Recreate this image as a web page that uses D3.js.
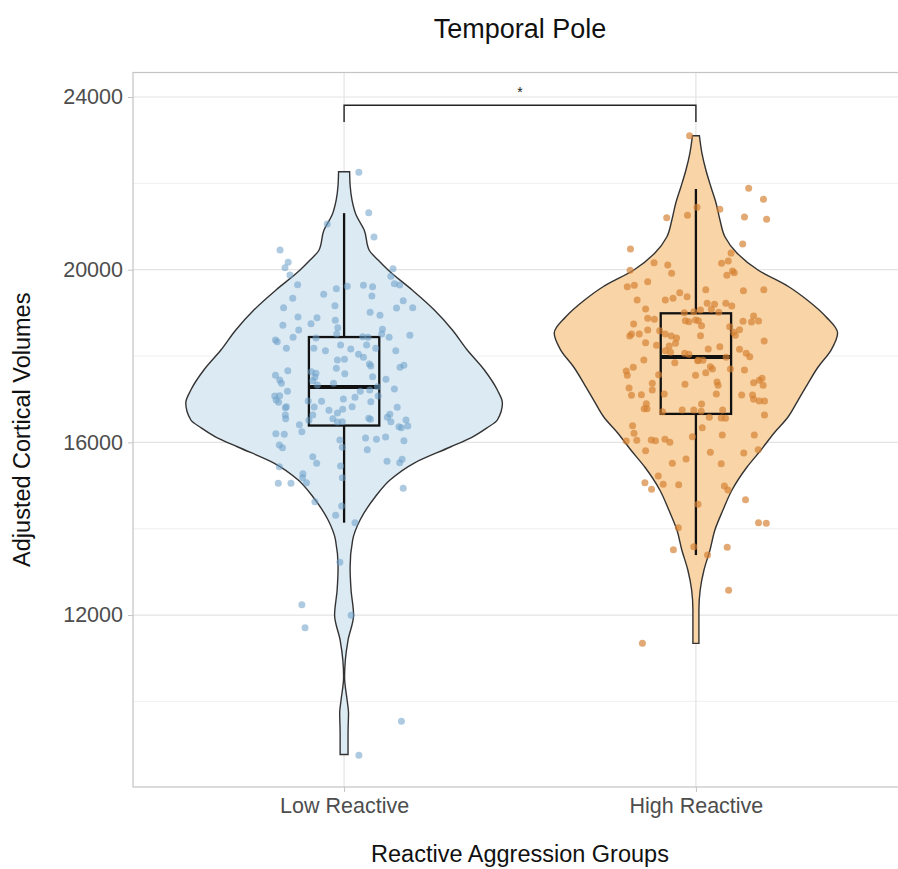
<!DOCTYPE html>
<html>
<head>
<meta charset="utf-8">
<script src="https://cdn.jsdelivr.net/npm/d3@7"></script>
<style>
  body { margin: 0; background: #fff; }
  text { font-family: "Liberation Sans", Arial, sans-serif; }
</style>
</head>
<body>
<div id="viz"></div>
<script>
/* global d3 */
const groups = ['Low Reactive', 'High Reactive'];
const yTicks = [12000, 16000, 20000, 24000];
const yMinorTicks = [10000, 14000, 18000, 22000];
const yDomain = [8017, 24568];

// box stats: [lower whisker, q1, median, q3, upper whisker]
const lowBox = [14140, 16390, 17280, 18440, 21310];
const highBox = [13390, 16660, 17980, 18990, 21870];

// violin outline: [value, relative density]
const lowViolin = [
  [8770, 0.025], [9268, 0.025], [9731, 0.028], [10033, 0.019], [10565, 0.003],
  [10959, 0.008], [11422, 0.025], [12001, 0.06], [12580, 0.044], [13113, 0.038],
  [13738, 0.054], [14202, 0.101], [14734, 0.196], [15128, 0.29], [15522, 0.443],
  [15893, 0.671], [16124, 0.81], [16330, 0.9], [16518, 0.968], [16912, 1.0],
  [17213, 0.968], [17676, 0.886], [18139, 0.778], [18603, 0.684], [19066, 0.57],
  [19529, 0.43], [19993, 0.278], [20224, 0.215], [20456, 0.158], [20919, 0.127],
  [21267, 0.076], [21614, 0.05], [21962, 0.038], [22270, 0.035]
];
const highViolin = [
  [11345, 0.019], [12117, 0.019], [12580, 0.027], [13043, 0.051], [13507, 0.089],
  [13970, 0.12], [14433, 0.171], [14897, 0.228], [15429, 0.323], [15823, 0.411],
  [16217, 0.494], [16588, 0.582], [16981, 0.646], [17375, 0.709], [17746, 0.772],
  [18139, 0.854], [18533, 0.895], [18904, 0.823], [19298, 0.703], [19599, 0.589],
  [19993, 0.392], [20386, 0.259], [20757, 0.184], [21151, 0.152], [21545, 0.127],
  [21915, 0.095], [22309, 0.063], [22703, 0.038], [23104, 0.022]
];

// jittered points: [horizontal jitter (category units), value]
const lowPoints = [
  [-0.048, 21058], [-0.182, 20456], [-0.159, 20171], [-0.168, 20046], [-0.154, 19877],
  [-0.132, 19652], [-0.022, 19559], [-0.058, 19430], [-0.146, 19337], [-0.026, 19166],
  [-0.172, 19119], [-0.131, 18904], [-0.077, 18888], [-0.094, 18749], [-0.025, 18827],
  [-0.174, 18712], [-0.129, 18603], [-0.018, 18656], [0.042, 22256], [0.070, 21320],
  [0.085, 20757], [0.139, 20023], [0.133, 19847], [0.143, 19675], [0.158, 19645],
  [0.009, 19615], [0.055, 19638], [0.081, 19606], [0.079, 19390], [0.168, 19282],
  [0.195, 19119], [0.149, 19112], [0.074, 19013], [0.102, 18943], [0.109, 18619],
  [-0.195, 18371], [-0.190, 18332], [-0.145, 18434], [-0.164, 18179], [-0.080, 18417],
  [-0.021, 18510], [-0.010, 18255], [-0.086, 18179], [-0.053, 18123], [-0.019, 17908],
  [-0.022, 17716], [0.001, 17924], [-0.160, 17660], [-0.093, 17637], [-0.080, 17600],
  [-0.083, 17507], [-0.089, 17428], [-0.195, 17553], [-0.183, 17445], [-0.178, 17368],
  [-0.030, 17368], [-0.076, 17329], [-0.161, 17183], [-0.197, 17074], [-0.183, 17081],
  [-0.193, 16981], [-0.186, 16928], [-0.102, 16958], [-0.064, 16951], [-0.002, 17004],
  [-0.164, 16826], [-0.167, 16803], [-0.085, 16819], [-0.043, 16743], [-0.019, 16680],
  [-0.004, 16766], [-0.167, 16634], [-0.166, 16548], [-0.089, 16634], [-0.100, 16511],
  [-0.032, 16548], [-0.019, 16472], [-0.127, 16409], [-0.120, 16247], [-0.194, 16201],
  [-0.170, 16187], [-0.012, 16055], [-0.184, 15939], [-0.175, 15876], [-0.005, 15886],
  [-0.089, 15668], [-0.078, 15515], [-0.184, 15436], [-0.010, 15452], [-0.117, 15274],
  [-0.118, 15181], [-0.107, 15066], [-0.187, 15052], [-0.151, 15052], [-0.005, 15181],
  [0.053, 18448], [0.068, 18434], [0.107, 18510], [0.128, 18434], [0.187, 18480],
  [0.019, 18163], [0.064, 18255], [0.090, 18179], [0.041, 18040], [0.055, 17970],
  [0.147, 18123], [0.072, 17815], [0.076, 17769], [0.159, 17739], [0.170, 17785],
  [0.002, 17590], [0.081, 17521], [0.119, 17461], [0.143, 17236], [0.046, 17183],
  [0.073, 17213], [0.095, 17289], [0.031, 17044], [0.023, 16826], [0.076, 16942],
  [0.097, 17074], [0.151, 16812], [0.130, 16650], [0.123, 16581], [0.070, 16557],
  [0.075, 16534], [0.133, 16479], [0.176, 16518], [0.156, 16363], [0.163, 16340],
  [0.181, 16379], [-0.005, 16479], [0.061, 16101], [0.092, 16071], [0.118, 16124],
  [0.170, 16039], [0.066, 15830], [0.122, 15561], [0.158, 15529], [0.165, 15608],
  [0.168, 14936], [-0.083, 14626], [-0.007, 14526], [-0.024, 14310], [0.031, 14139],
  [-0.012, 13222], [-0.120, 12240], [-0.111, 11707], [0.020, 11994], [0.163, 9539],
  [0.042, 8751]
];
const highPoints = [
  [-0.018, 23104], [0.003, 21445], [-0.024, 21260], [-0.083, 21204], [-0.186, 20479],
  [-0.119, 20162], [-0.080, 20108], [-0.069, 19916], [-0.187, 19986], [-0.195, 19606],
  [-0.175, 19638], [-0.137, 19722], [-0.046, 19467], [-0.025, 19374], [-0.065, 19337],
  [-0.087, 19298], [-0.167, 19298], [0.150, 21885], [0.192, 21630], [0.068, 21399],
  [0.138, 21220], [0.201, 21167], [0.133, 20595], [0.100, 20386], [0.073, 20148],
  [0.092, 20201], [0.104, 19969], [0.109, 19930], [0.088, 19870], [0.028, 19536],
  [0.135, 19513], [0.193, 19536], [-0.143, 19089], [-0.033, 19003], [-0.006, 19027],
  [-0.137, 18874], [-0.118, 18851], [-0.030, 18818], [-0.020, 18795], [-0.001, 18834],
  [-0.177, 18742], [-0.137, 18603], [-0.103, 18587], [-0.183, 18510], [-0.188, 18464],
  [-0.161, 18510], [-0.087, 18510], [-0.070, 18464], [-0.055, 18417], [-0.143, 18309],
  [-0.112, 18248], [-0.076, 18232], [-0.058, 18295], [-0.087, 18123], [-0.072, 18086],
  [-0.032, 18063], [-0.020, 18040], [0.005, 17892], [-0.148, 17908], [-0.060, 17845],
  [-0.178, 17739], [-0.198, 17653], [-0.195, 17553], [-0.106, 17567], [-0.001, 17553],
  [-0.124, 17368], [-0.031, 17345], [-0.190, 17259], [-0.124, 17213], [-0.183, 17090],
  [-0.155, 17104], [-0.090, 17120], [-0.141, 16896], [-0.147, 16780], [-0.139, 16780],
  [-0.095, 16710], [-0.039, 16750], [-0.006, 16750], [-0.180, 16386], [-0.176, 16210],
  [-0.168, 16048], [-0.198, 16032], [-0.127, 16055], [-0.115, 16039], [-0.088, 16071],
  [-0.074, 16001], [-0.010, 16131], [-0.143, 15807], [-0.028, 15615], [-0.067, 15515],
  [0.032, 19221], [0.053, 19198], [0.085, 19221], [0.102, 19159], [0.013, 19066],
  [0.044, 19082], [0.065, 19013], [0.007, 18818], [0.016, 18702], [0.164, 18927],
  [0.134, 18804], [0.158, 18788], [0.178, 18811], [0.096, 18679], [0.124, 18610],
  [0.107, 18550], [0.112, 18480], [0.013, 18471], [0.194, 18348], [0.124, 18156],
  [0.068, 18216], [0.035, 18163], [0.143, 18063], [0.153, 17984], [0.007, 17901],
  [0.020, 17901], [0.086, 17970], [0.041, 17753], [0.047, 17699], [0.098, 17699],
  [0.138, 17676], [0.028, 17614], [0.060, 17398], [0.063, 17322], [0.164, 17382],
  [0.180, 17438], [0.188, 17484], [0.191, 17322], [0.058, 17120], [0.130, 17097],
  [0.161, 17097], [0.164, 16997], [0.180, 16958], [0.195, 16958], [0.016, 16889],
  [0.015, 16719], [0.076, 16750], [0.038, 16581], [0.072, 16564], [0.084, 16557],
  [0.195, 16634], [0.018, 16340], [0.075, 16171], [0.166, 16171], [0.041, 15770],
  [0.136, 15754], [0.177, 15830], [0.072, 15506], [-0.107, 15221], [-0.145, 15066],
  [-0.093, 15029], [-0.049, 15019], [-0.126, 14913], [0.081, 14989], [0.091, 14897],
  [0.141, 14672], [0.006, 14565], [0.178, 14139], [0.200, 14125], [-0.050, 14023],
  [-0.064, 13514], [-0.006, 13583], [0.089, 13569], [0.033, 13391], [0.093, 12573],
  [-0.152, 11345]
];

const sigLabel = '*';
const bracketValue = 23810;
const bracketTickValue = 23420;

const series = [
  { name: groups[0], violin: lowViolin, box: lowBox, points: lowPoints, fill: '#dceaf4', dot: 'rgba(105,158,200,0.55)' },
  { name: groups[1], violin: highViolin, box: highBox, points: highPoints, fill: '#f9d4a6', dot: 'rgba(212,128,50,0.68)' },
];

const width = 898;
const height = 869;
const margin = { left: 133, right: -9, top: 72.5, bottom: 82 };

const svg = d3.select('#viz').append('svg')
  .attr('width', width)
  .attr('height', height);

// categories sit at 1 and 2, discrete expansion of 0.6 on each side
const xScale = d3.scaleLinear()
  .domain([0.4, 2.6])
  .range([margin.left, width - margin.right]);

const yScale = d3.scaleLinear()
  .domain(yDomain)
  .range([height - margin.bottom, margin.top]);

const panelW = xScale(2.6) - xScale(0.4);
const panelH = yScale(yDomain[0]) - yScale(yDomain[1]);

const grid = svg.append('g');
grid.selectAll('line.minor')
  .data(yMinorTicks)
  .enter().append('line')
  .attr('x1', xScale(0.4)).attr('x2', xScale(2.6))
  .attr('y1', d => yScale(d)).attr('y2', d => yScale(d))
  .attr('stroke', '#ececec').attr('stroke-width', 0.8);
grid.selectAll('line.major')
  .data(yTicks)
  .enter().append('line')
  .attr('x1', xScale(0.4)).attr('x2', xScale(2.6))
  .attr('y1', d => yScale(d)).attr('y2', d => yScale(d))
  .attr('stroke', '#e3e3e3').attr('stroke-width', 1.2);
grid.selectAll('line.vmajor')
  .data(groups)
  .enter().append('line')
  .attr('x1', (d, i) => xScale(i + 1)).attr('x2', (d, i) => xScale(i + 1))
  .attr('y1', yScale(yDomain[0])).attr('y2', yScale(yDomain[1]))
  .attr('stroke', '#e3e3e3').attr('stroke-width', 1.2);

svg.append('rect')
  .attr('x', xScale(0.4))
  .attr('y', yScale(yDomain[1]))
  .attr('width', panelW)
  .attr('height', panelH)
  .attr('fill', 'none')
  .attr('stroke', '#c4c4c4')
  .attr('stroke-width', 1.2);

const violinHalf = 0.45;
const boxHalf = 0.1;

series.forEach((s, i) => {
  const cx = i + 1;
  const area = d3.area()
    .curve(d3.curveMonotoneY)
    .y(d => yScale(d[0]))
    .x0(d => xScale(cx - d[1] * violinHalf))
    .x1(d => xScale(cx + d[1] * violinHalf));

  svg.append('path')
    .datum(s.violin)
    .attr('d', area)
    .attr('fill', s.fill)
    .attr('stroke', '#333')
    .attr('stroke-width', 1.4);

  const g = svg.append('g');
  const [lo, q1, med, q3, hi] = s.box;
  g.append('line')
    .attr('x1', xScale(cx)).attr('x2', xScale(cx))
    .attr('y1', yScale(q3)).attr('y2', yScale(hi))
    .attr('stroke', '#111').attr('stroke-width', 2.3);
  g.append('line')
    .attr('x1', xScale(cx)).attr('x2', xScale(cx))
    .attr('y1', yScale(q1)).attr('y2', yScale(lo))
    .attr('stroke', '#111').attr('stroke-width', 2.3);
  g.append('rect')
    .attr('x', xScale(cx - boxHalf))
    .attr('y', yScale(q3))
    .attr('width', xScale(cx + boxHalf) - xScale(cx - boxHalf))
    .attr('height', yScale(q1) - yScale(q3))
    .attr('fill', 'none')
    .attr('stroke', '#111')
    .attr('stroke-width', 2.3);
  g.append('line')
    .attr('x1', xScale(cx - boxHalf)).attr('x2', xScale(cx + boxHalf))
    .attr('y1', yScale(med)).attr('y2', yScale(med))
    .attr('stroke', '#111').attr('stroke-width', 4);

  svg.append('g').selectAll('circle')
    .data(s.points)
    .enter().append('circle')
    .attr('cx', d => xScale(cx + d[0]))
    .attr('cy', d => yScale(d[1]))
    .attr('r', 3.5)
    .attr('fill', s.dot);
});

// significance bracket
const bracket = d3.line()
  .x(d => xScale(d[0]))
  .y(d => yScale(d[1]));
svg.append('path')
  .datum([[1, bracketTickValue], [1, bracketValue], [2, bracketValue], [2, bracketTickValue]])
  .attr('d', bracket)
  .attr('fill', 'none')
  .attr('stroke', '#222')
  .attr('stroke-width', 1.4);
svg.append('text')
  .attr('x', xScale(1.5))
  .attr('y', yScale(bracketValue) - 8)
  .attr('text-anchor', 'middle')
  .attr('font-size', 14)
  .attr('fill', '#222')
  .text(sigLabel);

// axes
const yAxis = d3.axisLeft(yScale).tickValues(yTicks).tickFormat(d3.format('d')).tickSize(5).tickPadding(5);
const yg = svg.append('g')
  .attr('transform', `translate(${xScale(0.4)},0)`)
  .call(yAxis);
yg.select('.domain').remove();
yg.selectAll('line').attr('stroke', '#c4c4c4');
yg.selectAll('text')
  .attr('font-size', 21.5)
  .attr('fill', '#4d4d4d')
  .style('font-family', '"Liberation Sans", Arial, sans-serif');

const xAxis = d3.axisBottom(xScale).tickValues([1, 2]).tickFormat((d) => groups[d - 1]).tickSize(5).tickPadding(6);
const xg = svg.append('g')
  .attr('transform', `translate(0,${yScale(yDomain[0])})`)
  .call(xAxis);
xg.select('.domain').remove();
xg.selectAll('line').attr('stroke', '#c4c4c4');
xg.selectAll('text')
  .attr('font-size', 21.5)
  .attr('fill', '#4d4d4d')
  .style('font-family', '"Liberation Sans", Arial, sans-serif');

svg.append('text')
  .attr('x', xScale(1.5))
  .attr('y', 38)
  .attr('text-anchor', 'middle')
  .attr('font-size', 27)
  .attr('fill', '#111')
  .text('Temporal Pole');

svg.append('text')
  .attr('x', xScale(1.5))
  .attr('y', 862)
  .attr('text-anchor', 'middle')
  .attr('font-size', 23.5)
  .attr('fill', '#111')
  .text('Reactive Aggression Groups');

svg.append('text')
  .attr('transform', `translate(30,${(yScale(yDomain[0]) + yScale(yDomain[1])) / 2}) rotate(-90)`)
  .attr('text-anchor', 'middle')
  .attr('font-size', 23.5)
  .attr('fill', '#111')
  .text('Adjusted Cortical Volumes');
</script>
</body>
</html>
